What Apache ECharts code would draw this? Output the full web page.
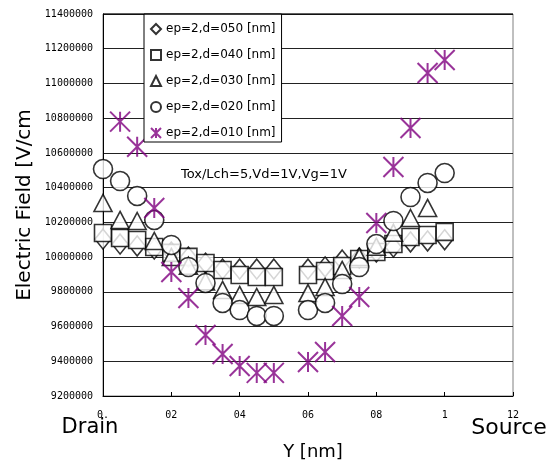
<!DOCTYPE html>
<html><head><meta charset="utf-8">
<script src="https://cdn.jsdelivr.net/npm/echarts@6/dist/echarts.min.js"></script>
<style>html,body{margin:0;padding:0;background:#fff}#c{width:553px;height:464px}</style>
</head><body><div id="c"></div>
<script>
const xValues = [0,0.05,0.1,0.15,0.2,0.25,0.3,0.35,0.4,0.45,0.5,0.6,0.65,0.7,0.75,0.8,0.85,0.9,0.95,1.0];
const d050 = [10104000,10075000,10064000,10046000,10029000,10000000,9965000,9931000,9931000,9931000,9931000,9931000,9943000,9983000,9995000,10030000,10058000,10087000,10093000,10100000];
const d040 = [10139000,10110000,10098000,10058000,10024000,10001000,9966000,9926000,9897000,9885000,9885000,9897000,9920000,9949000,9989000,10029000,10075000,10116000,10127000,10145000];
const d030 = [10312000,10214000,10208000,10093000,10001000,9950000,9860000,9811000,9782000,9770000,9782000,9793000,9828000,9926000,10000000,10060000,10140000,10225000,10283000,null];
const d020 = [10507000,10438000,10352000,10214000,10070000,9943000,9851000,9736000,9695000,9661000,9661000,9695000,9736000,9845000,9943000,10075000,10208000,10346000,10427000,10484000];
const d010 = [null,10780000,10635000,10283000,9914000,9764000,9551000,9442000,9373000,9333000,9333000,9396000,9453000,9661000,9770000,10196000,10519000,10743000,11060000,11135000];
const seriesNames = ['ep=2,d=050 [nm]','ep=2,d=040 [nm]','ep=2,d=030 [nm]','ep=2,d=020 [nm]','ep=2,d=010 [nm]'];
const xTickLabels = ['0.','02','04','06','08','1','12'];

function pts(arr){ const r=[]; arr.forEach((v,i)=>{ if(v!==null) r.push([xValues[i], v]); }); return r; }
const starPath = 'path://M0,0L20,20M20,0L0,20M10,0L10,20';
const blackMarker = {color:'#fff', borderColor:'#000', borderWidth:1.6};
const chart = echarts.init(document.getElementById('c'));
chart.setOption({
  animation:false,
  grid:{left:103,right:40,top:14,bottom:68,show:true,borderColor:'#808080',borderWidth:1},
  legend:{
    orient:'vertical', left:144, top:14, itemWidth:10, itemHeight:10, itemGap:14,
    padding:[9,6,3,6], backgroundColor:'#fff', borderColor:'#000', borderWidth:1,
    textStyle:{fontFamily:'DejaVu Sans', fontSize:12, color:'#000'},
    data:seriesNames
  },
  xAxis:{type:'value',min:0,max:1.2,interval:0.2,
    axisLine:{show:true,lineStyle:{color:'#000',width:1}},
    axisTick:{show:true,inside:true,length:4,lineStyle:{color:'#000'}},
    splitLine:{show:false},
    axisLabel:{margin:14,fontFamily:'DejaVu Sans Mono',fontSize:10,color:'#000',
      formatter:(v)=>xTickLabels[Math.round(v/0.2)]}
  },
  yAxis:{type:'value',min:9200000,max:11400000,interval:200000,
    axisLine:{show:true,lineStyle:{color:'#000',width:1}},
    axisTick:{show:false},
    splitLine:{show:true,lineStyle:{color:'#222',width:1}},
    axisLabel:{margin:10,fontFamily:'DejaVu Sans Mono',fontSize:10,color:'#000',
      formatter:(v)=>String(Math.round(v))}
  },
  graphic:[
    {type:'line',shape:{x1:103,y1:14,x2:513,y2:14},style:{stroke:'#000',lineWidth:1},z:10},
    {type:'text',x:25,y:205,rotation:Math.PI/2,style:{text:'Electric Field [V/cm',fontFamily:'DejaVu Sans',fontSize:20,fill:'#000',textAlign:'center',textVerticalAlign:'middle'}},
    {type:'text',x:181,y:175,style:{text:'Tox/Lch=5,Vd=1V,Vg=1V',fontFamily:'DejaVu Sans',fontSize:13,fill:'#000',textAlign:'left',textVerticalAlign:'middle'}},
    {type:'text',x:90,y:428,style:{text:'Drain',fontFamily:'DejaVu Sans',fontSize:21,fill:'#000',textAlign:'center',textVerticalAlign:'middle'}},
    {type:'text',x:509,y:428,style:{text:'Source',fontFamily:'DejaVu Sans',fontSize:22,fill:'#000',textAlign:'center',textVerticalAlign:'middle'}},
    {type:'text',x:313,y:452,style:{text:'Y [nm]',fontFamily:'DejaVu Sans',fontSize:18,fill:'#000',textAlign:'center',textVerticalAlign:'middle'}}
  ],
  series:[
    {name:seriesNames[0],type:'scatter',symbol:'diamond',symbolSize:[16,20],itemStyle:blackMarker,data:pts(d050)},
    {name:seriesNames[1],type:'scatter',symbol:'rect',symbolSize:17,itemStyle:blackMarker,data:pts(d040)},
    {name:seriesNames[2],type:'scatter',symbol:'triangle',symbolSize:[18,17],itemStyle:blackMarker,data:pts(d030)},
    {name:seriesNames[3],type:'scatter',symbol:'circle',symbolSize:19,itemStyle:blackMarker,data:pts(d020)},
    {name:seriesNames[4],type:'scatter',symbol:starPath,symbolSize:20,symbolKeepAspect:true,
      itemStyle:{color:'transparent',borderColor:'#800080',borderWidth:2},data:pts(d010)}
  ]
});
</script></body></html>
